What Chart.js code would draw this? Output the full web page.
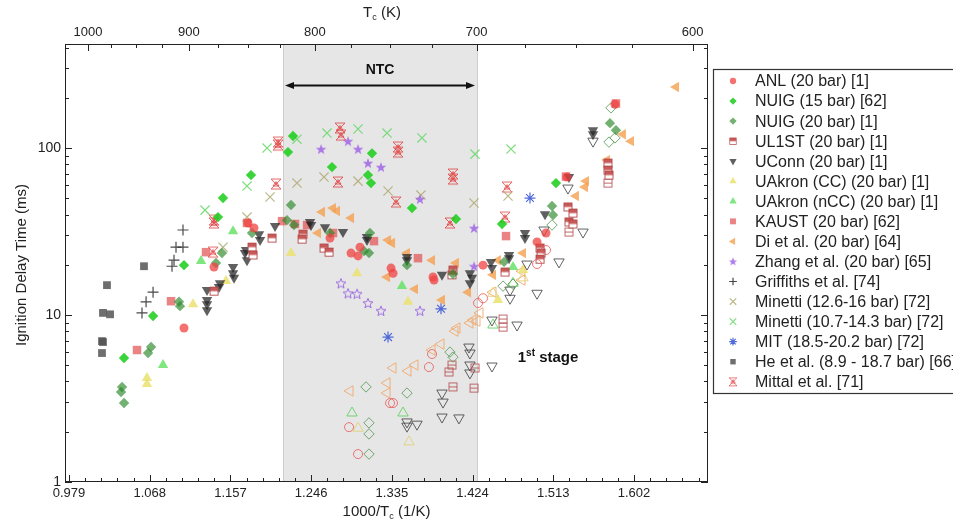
<!DOCTYPE html>
<html>
<head>
<meta charset="utf-8">
<script src="https://cdn.jsdelivr.net/npm/chart.js@4.4.1/dist/chart.umd.min.js"></script>
<style>
  html, body { margin: 0; padding: 0; background: #fff; }
  #wrap { width: 953px; height: 529px; position: relative; }
</style>
</head>
<body>
<div id="wrap"><canvas id="chart"></canvas></div>
<script>
// Axis ticks
const BOTTOM_TICKS = [0.979, 1.068, 1.157, 1.246, 1.335, 1.424, 1.513, 1.602];
const TOP_TICKS_K = [1000, 900, 800, 700, 600];
const TOP_MINOR_K = [975, 950, 925, 875, 850, 825, 775, 750, 725, 675, 650, 625];
const Y_TICKS = [1, 10, 100];
const NTC_RANGE = [1.215, 1.4289];

// Data: [1000/Tc (1/K), ignition delay (ms)]; *Open = first-stage (hollow markers)
const anl = [[1.1058, 8.36], [1.1764, 35.6], [1.183, 33.2], [1.1389, 19.4], [1.2668, 28.9], [1.29, 23.5], [1.2977, 22.6],
  [1.2999, 25.5], [1.3341, 19.1], [1.3363, 17.8], [1.3804, 16.9], [1.3815, 16.2], [1.4355, 19.9], [1.4951, 27.4],
  [1.505, 31], [1.5281, 67], [1.581, 183]];
const anlOpen = [[1.43, 11.8], [1.4355, 12.6], [1.3793, 5.84], [1.3759, 4.88], [1.333, 2.97], [1.3363, 2.97],
  [1.2878, 2.13], [1.2977, 1.47], [1.505, 24.5], [1.4951, 20.2]];
const nuig15 = [[1.0397, 5.53], [1.0717, 9.86], [1.1058, 19.9], [1.1433, 38.6], [1.1488, 50.2], [1.1797, 68.9],
  [1.2205, 94.6], [1.226, 118], [1.269, 76.9], [1.3131, 93], [1.3087, 68.9], [1.312, 61.7], [1.3572, 43.7],
  [1.4057, 37.6], [1.4565, 35.1], [1.516, 61.7]];
const nuig20 = [[1.0364, 3.46], [1.0375, 3.71], [1.0397, 2.97], [1.0662, 5.92], [1.0695, 6.43], [1.1003, 12],
  [1.1014, 11.3], [1.1411, 20.5], [1.1477, 23.5], [1.1808, 31], [1.2194, 37], [1.2238, 45.6], [1.2271, 34.6],
  [1.2668, 31], [1.3109, 31], [1.3043, 24.2], [1.3098, 23.5], [1.3517, 19.9], [1.4024, 17.6], [1.4587, 20.8],
  [1.5116, 45], [1.5127, 39.7], [1.5755, 141], [1.5821, 128]];
const nuig20Open = [[1.5766, 174], [1.581, 115], [1.5744, 108.6], [1.5116, 34.6], [1.4576, 14.9], [1.4686, 15.3],
  [1.3991, 6], [1.4024, 5.6], [1.3065, 3.71], [1.3517, 3.41], [1.3098, 2.26], [1.3098, 1.94], [1.3098, 1.47]];
const ul1st = [[1.2029, 28.9], [1.1808, 25.5], [1.1819, 22.9], [1.1389, 13.9], [1.237, 30.5], [1.236, 28.5],
  [1.2602, 25.2], [1.2657, 23.8], [1.4024, 18.6], [1.4013, 17.4], [1.4598, 18.1], [1.4984, 25.2], [1.4995, 23.5],
  [1.4984, 21.6], [1.5292, 44.4], [1.5347, 40.8], [1.5303, 36.1], [1.5347, 35.1], [1.5733, 81.3], [1.5733, 73.8],
  [1.5744, 68.9]];
const ul1stOpen = [[1.5733, 61.7], [1.5303, 31.4], [1.4576, 9.46], [1.4576, 8.47], [1.4013, 5.02], [1.398, 4.56],
  [1.4267, 4.82], [1.4024, 3.71], [1.4256, 3.65]];
const uconn = [[1.1312, 14.1], [1.1312, 12.3], [1.1312, 11.6], [1.1312, 10.7], [1.1444, 14.7], [1.1455, 15.5],
  [1.1599, 19.4], [1.1599, 17.8], [1.161, 16.7], [1.1731, 23.5], [1.1742, 24.5], [1.1753, 21.3], [1.1886, 30.5],
  [1.1897, 28.1], [1.2062, 34.1], [1.2448, 36.1], [1.2459, 34.6], [1.2613, 33.6], [1.2811, 31.4], [1.3076, 29.3],
  [1.3076, 28.1], [1.3517, 22.3], [1.3517, 21.3], [1.3903, 17.4], [1.4211, 17.8], [1.4234, 16.7], [1.4211, 15.5],
  [1.4443, 20.8], [1.4454, 19.1], [1.4642, 22.9], [1.4642, 21.9], [1.4818, 31], [1.4818, 28.9], [1.5039, 40.2],
  [1.5303, 67], [1.5568, 128], [1.5568, 121]];
const uconnOpen = [[1.5568, 110], [1.5292, 57.6], [1.5458, 31.4], [1.5028, 32.3], [1.5193, 20.8], [1.484, 20.2],
  [1.4653, 14.1], [1.4653, 12.6], [1.4951, 13.5], [1.4454, 9.33], [1.473, 8.71], [1.42, 6.43], [1.4211, 5.92],
  [1.4211, 5.02], [1.4211, 4.5], [1.4454, 4.95], [1.3903, 3.41], [1.3914, 3.01], [1.3903, 2.45], [1.409, 2.42],
  [1.3517, 2.29], [1.3517, 2.16], [1.3627, 2.22]];
const uakronCC = [[1.065, 4.2], [1.065, 3.86], [1.1158, 11.6], [1.1521, 16], [1.2238, 23.5], [1.2966, 17.8],
  [1.3528, 12], [1.452, 12.3], [1.4796, 18.6]];
const uakronCCOpen = [[1.2977, 2.1], [1.3539, 1.74], [1.4465, 13.5], [1.4796, 16.7]];
const uakronNCC = [[1.0827, 5.02], [1.1246, 21.1], [1.1599, 31.8], [1.3462, 14.9], [1.4686, 19.4]];
const uakronNCCOpen = [[1.2911, 2.59], [1.3473, 2.59], [1.4686, 15.5], [1.4465, 8.71]];
const kaust = [[1.054, 6.17], [1.0915, 12.1], [1.1301, 23.8], [1.1753, 35.6], [1.2139, 36.5], [1.2282, 35.1],
  [1.2415, 34.6], [1.2701, 31], [1.3153, 27.7], [1.3638, 21.9], [1.4609, 29.7], [1.527, 67.5], [1.5821, 185]];
const di = [[1.258, 41.4], [1.2701, 43.7], [1.2745, 42], [1.29, 38.1], [1.2536, 31], [1.3308, 28.1], [1.3352, 27],
  [1.3517, 23.5], [1.3793, 21.3], [1.4057, 20.5], [1.3297, 16.9], [1.3605, 14.3], [1.3903, 12.3], [1.419, 13.7],
  [1.4465, 17.4], [1.452, 21.3], [1.4796, 23.5], [1.538, 51.6], [1.548, 58.4], [1.5491, 63.4], [1.5722, 84.7],
  [1.5898, 121], [1.5987, 110], [1.6483, 232]];
const diOpen = [[1.4322, 10.3], [1.4289, 9.2], [1.4211, 8.96], [1.4068, 8.36], [1.4046, 8.0], [1.3892, 6.7],
  [1.3793, 6.17], [1.3605, 5.02], [1.3528, 4.62], [1.3363, 4.82], [1.3297, 3.92], [1.3297, 3.41], [1.2889, 3.51],
  [1.4465, 13.7], [1.4245, 9.33], [1.4785, 18.3], [1.4785, 16.2]];
const zhang = [[1.257, 98.6], [1.2867, 110], [1.2977, 98.6], [1.3087, 81.3], [1.323, 76.9], [1.366, 49.5],
  [1.4256, 33.2], [1.4256, 19.6]];
const zhangOpen = [[1.2789, 15.5], [1.2867, 13.5], [1.2966, 13.4], [1.3087, 11.8], [1.323, 10.6], [1.366, 10.6]];
const griffiths = [[1.0595, 10.3], [1.064, 12], [1.0717, 13.7], [1.0926, 19.6], [1.0948, 21.3], [1.097, 25.5],
  [1.1047, 25.5], [1.1047, 32.3]];
const minettiA = [[1.1488, 25.5], [1.1753, 38.6], [1.2007, 50.9], [1.2304, 61.7], [1.2602, 67], [1.2977, 63.4],
  [1.3308, 55.3], [1.3671, 52.3], [1.4256, 46.9], [1.4631, 51.6]];
const minettiB = [[1.129, 42.5], [1.1753, 59.2], [1.1974, 100], [1.2304, 113], [1.2635, 123], [1.2977, 130],
  [1.3297, 123], [1.3682, 115], [1.4267, 92], [1.4664, 98.6]];
const mit = [[1.3308, 7.38], [1.3892, 10.9], [1.4873, 50.2]];
const he = [[1.0154, 6.98], [1.0154, 5.92], [1.0165, 6.89], [1.0165, 10.3], [1.0243, 10.1], [1.0209, 15.1],
  [1.0617, 19.6]];
const mittal = [[1.1378, 23.8], [1.1389, 37], [1.1389, 35.6], [1.2073, 60.9], [1.2095, 108.6], [1.2095, 104.2],
  [1.2778, 131.8], [1.2789, 119.6], [1.2756, 62.6], [1.3418, 101.4], [1.3418, 94.6], [1.3396, 47.5],
  [1.4024, 69.9], [1.4024, 65.2], [1.3991, 35.6], [1.462, 58.4], [1.4598, 38.6]];

const FONT = "'Liberation Sans', Arial, sans-serif";

// small canvas markers for shapes Chart.js does not have
function makeMarker(size, draw) {
  const c = document.createElement('canvas');
  c.width = size; c.height = size;
  const g = c.getContext('2d');
  draw(g, size / 2);
  return c;
}
function starPath(g, cx, cy, ro, ri) {
  g.beginPath();
  for (let i = 0; i < 10; i++) {
    const r = i % 2 ? ri : ro;
    const a = -Math.PI / 2 + i * Math.PI / 5;
    g.lineTo(cx + r * Math.cos(a), cy + r * Math.sin(a));
  }
  g.closePath();
}
const ul1stImg = makeMarker(11, (g, c) => {
  g.fillStyle = '#fff'; g.fillRect(1.5, 1.5, 8, 8);
  g.fillStyle = 'rgba(190,60,60,0.85)'; g.fillRect(1.5, 1.5, 8, 4);
  g.strokeStyle = 'rgba(175,60,60,0.85)'; g.lineWidth = 1; g.strokeRect(1.5, 1.5, 8, 8);
});
const ul1stOpenImg = makeMarker(11, (g, c) => {
  g.strokeStyle = 'rgba(180,80,80,0.85)'; g.lineWidth = 1;
  g.strokeRect(1.5, 1.5, 8, 8);
  g.beginPath(); g.moveTo(1.5, 5.5); g.lineTo(9.5, 5.5); g.stroke();
});
const zhangImg = makeMarker(12, (g, c) => {
  starPath(g, c, c + 0.5, 5.5, 2.3);
  g.fillStyle = 'rgba(160,100,230,0.85)'; g.fill();
});
const zhangOpenImg = makeMarker(12, (g, c) => {
  starPath(g, c, c + 0.5, 5.2, 2.3);
  g.strokeStyle = 'rgba(150,95,225,0.9)'; g.lineWidth = 1; g.stroke();
});
const mittalImg = makeMarker(14, (g, c) => {
  g.strokeStyle = 'rgba(225,70,70,0.85)'; g.lineWidth = 1;
  g.beginPath();
  g.moveTo(2, 2); g.lineTo(12, 12); g.moveTo(12, 2); g.lineTo(2, 12);
  g.moveTo(2, 2); g.lineTo(12, 2); g.moveTo(2, 12); g.lineTo(12, 12);
  g.moveTo(4, 9); g.lineTo(7, 4.5); g.lineTo(10, 9); g.closePath();
  g.stroke();
});

const SERIES = [
  { label: 'ANL (20 bar) [1]', data: anl, open: anlOpen, style: 'circle', r: 4.5, color: 'rgba(240,65,65,0.75)', openColor: 'rgba(235,95,95,0.85)' },
  { label: 'NUIG (15 bar) [62]', data: nuig15, style: 'rectRot', r: 5.2, color: 'rgba(25,205,25,0.85)' },
  { label: 'NUIG (20 bar) [1]', data: nuig20, open: nuig20Open, style: 'rectRot', r: 5.2, color: 'rgba(40,135,40,0.65)', openColor: 'rgba(90,155,90,0.85)' },
  { label: 'UL1ST (20 bar) [1]', data: ul1st, open: ul1stOpen, style: ul1stImg, openStyle: ul1stOpenImg, r: 5, color: 'rgba(190,60,60,0.85)' },
  { label: 'UConn (20 bar) [1]', data: uconn, open: uconnOpen, style: 'triangle', rot: 180, r: 6, color: 'rgba(35,35,35,0.72)', openColor: 'rgba(70,70,70,0.85)' },
  { label: 'UAkron (CC) (20 bar) [1]', data: uakronCC, open: uakronCCOpen, style: 'triangle', r: 6, color: 'rgba(235,225,110,0.85)', openColor: 'rgba(225,210,120,0.9)' },
  { label: 'UAkron (nCC) (20 bar) [1]', data: uakronNCC, open: uakronNCCOpen, style: 'triangle', r: 6, color: 'rgba(95,225,95,0.8)', openColor: 'rgba(100,210,100,0.9)' },
  { label: 'KAUST (20 bar) [62]', data: kaust, style: 'rect', r: 6, color: 'rgba(225,80,80,0.7)' },
  { label: 'Di et al. (20 bar) [64]', data: di, open: diOpen, style: 'triangle', rot: 270, r: 6, color: 'rgba(245,160,80,0.8)', openColor: 'rgba(240,170,110,0.9)' },
  { label: 'Zhang et al. (20 bar) [65]', data: zhang, open: zhangOpen, style: zhangImg, openStyle: zhangOpenImg, r: 5, color: 'rgba(160,100,230,0.85)' },
  { label: 'Griffiths et al. [74]', data: griffiths, style: 'cross', r: 5.5, color: 'rgba(40,40,40,0.85)', line: true },
  { label: 'Minetti (12.6-16 bar) [72]', data: minettiA, style: 'crossRot', r: 6.5, color: 'rgba(175,170,115,0.85)', line: true },
  { label: 'Minetti (10.7-14.3 bar) [72]', data: minettiB, style: 'crossRot', r: 6.5, color: 'rgba(105,215,105,0.85)', line: true },
  { label: 'MIT (18.5-20.2 bar) [72]', data: mit, style: 'star', r: 5.5, color: 'rgba(50,80,210,0.85)', line: true },
  { label: 'He et al. (8.9 - 18.7 bar) [66]', data: he, style: 'rect', r: 5.5, color: 'rgba(85,85,85,0.85)' },
  { label: 'Mittal et al. [71]', data: mittal, style: mittalImg, r: 6, color: 'rgba(225,70,70,0.85)' },
];

const toPts = (arr) => arr.map(([x, y]) => ({ x, y }));
const datasets = [];
SERIES.forEach((s) => {
  datasets.push({
    label: s.label,
    data: toPts(s.data),
    pointStyle: s.style,
    rotation: s.rot || 0,
    pointRadius: s.r,
    backgroundColor: s.line ? 'rgba(0,0,0,0)' : s.color,
    borderColor: s.color,
    borderWidth: s.line ? 1.2 : 0,
  });
  if (s.open) {
    datasets.push({
      label: s.label + ' (1st stage)',
      data: toPts(s.open),
      pointStyle: s.openStyle || s.style,
      rotation: s.rot || 0,
      pointRadius: s.r,
      backgroundColor: 'rgba(0,0,0,0)',
      borderColor: s.openColor || s.color,
      borderWidth: 1,
    });
  }
});

function drawParts(ctx, parts, cx, baseY) {
  let w = 0;
  parts.forEach((p) => { ctx.font = p.font; p.w = ctx.measureText(p.t).width; w += p.w; });
  let x = cx - w / 2;
  ctx.textAlign = 'left';
  ctx.textBaseline = 'alphabetic';
  parts.forEach((p) => { ctx.font = p.font; ctx.fillText(p.t, x, baseY + (p.dy || 0)); x += p.w; });
}

const decor = {
  id: 'decor',
  beforeDatasetsDraw(chart) {
    const { ctx, chartArea: a, scales: { x } } = chart;
    const x0 = x.getPixelForValue(NTC_RANGE[0]);
    const x1 = x.getPixelForValue(NTC_RANGE[1]);
    ctx.save();
    ctx.fillStyle = '#e6e6e6';
    ctx.fillRect(x0, a.top, x1 - x0, a.bottom - a.top);
    ctx.strokeStyle = '#cdcdcd';
    ctx.lineWidth = 1;
    ctx.beginPath();
    ctx.moveTo(Math.round(x0) + 0.5, a.top); ctx.lineTo(Math.round(x0) + 0.5, a.bottom);
    ctx.moveTo(Math.round(x1) + 0.5, a.top); ctx.lineTo(Math.round(x1) + 0.5, a.bottom);
    ctx.stroke();
    ctx.restore();
  },
  afterDraw(chart) {
    const { ctx, chartArea: a, scales: { x, y } } = chart;
    ctx.save();
    // frame
    ctx.strokeStyle = '#222';
    ctx.lineWidth = 1;
    ctx.strokeRect(a.left + 0.5, a.top + 0.5, a.right - a.left - 1, a.bottom - a.top - 1);

    // inward ticks
    ctx.beginPath();
    const vTick = (px, len) => {
      px = Math.round(px) + 0.5;
      ctx.moveTo(px, a.bottom); ctx.lineTo(px, a.bottom - len);
    };
    BOTTOM_TICKS.forEach((v) => vTick(x.getPixelForValue(v), 7));
    for (let v = BOTTOM_TICKS[0]; v < x.max; v += 0.089) {
      for (let k = 1; k < 5; k++) {
        const m = v + k * 0.0178;
        if (m < x.max) vTick(x.getPixelForValue(m), 4);
      }
    }
    const tTick = (px, len) => {
      px = Math.round(px) + 0.5;
      ctx.moveTo(px, a.top); ctx.lineTo(px, a.top + len);
    };
    TOP_TICKS_K.forEach((t) => tTick(x.getPixelForValue(1000 / t), 7));
    TOP_MINOR_K.forEach((t) => tTick(x.getPixelForValue(1000 / t), 4));
    const hTick = (py, len) => {
      py = Math.round(py) + 0.5;
      ctx.moveTo(a.left, py); ctx.lineTo(a.left + len, py);
      ctx.moveTo(a.right, py); ctx.lineTo(a.right - len, py);
    };
    for (let d = 1; d <= 100; d *= 10) {
      hTick(y.getPixelForValue(d), 7);
      for (let k = 2; k <= 9; k++) {
        if (d * k <= y.max) hTick(y.getPixelForValue(d * k), 4);
      }
    }
    ctx.stroke();

    ctx.fillStyle = '#222';
    // axis titles
    drawParts(ctx, [
      { t: '1000/T', font: `15px ${FONT}` },
      { t: 'c', font: `9px ${FONT}`, dy: 3 },
      { t: ' (1/K)', font: `15px ${FONT}` },
    ], (a.left + a.right) / 2, 516);
    drawParts(ctx, [
      { t: 'T', font: `15px ${FONT}` },
      { t: 'c', font: `9px ${FONT}`, dy: 3 },
      { t: ' (K)', font: `15px ${FONT}` },
    ], 382, 17);
    ctx.save();
    ctx.translate(22, 265);
    ctx.rotate(-Math.PI / 2);
    ctx.font = `15px ${FONT}`;
    ctx.textAlign = 'center';
    ctx.textBaseline = 'middle';
    ctx.fillText('Ignition Delay Time (ms)', 0, 0);
    ctx.restore();

    // NTC arrow
    const x0 = x.getPixelForValue(NTC_RANGE[0]) + 2;
    const x1 = x.getPixelForValue(NTC_RANGE[1]) - 2;
    const ay = Math.round(y.getPixelForValue(238)) + 0.5;
    ctx.strokeStyle = '#111';
    ctx.lineWidth = 2;
    ctx.beginPath(); ctx.moveTo(x0 + 4, ay); ctx.lineTo(x1 - 4, ay); ctx.stroke();
    ctx.fillStyle = '#111';
    ctx.beginPath(); ctx.moveTo(x0, ay); ctx.lineTo(x0 + 9, ay - 3.5); ctx.lineTo(x0 + 9, ay + 3.5); ctx.closePath(); ctx.fill();
    ctx.beginPath(); ctx.moveTo(x1, ay); ctx.lineTo(x1 - 9, ay - 3.5); ctx.lineTo(x1 - 9, ay + 3.5); ctx.closePath(); ctx.fill();
    ctx.font = `bold 14px ${FONT}`;
    ctx.textAlign = 'center';
    ctx.textBaseline = 'middle';
    ctx.fillText('NTC', (x0 + x1) / 2, y.getPixelForValue(293));

    // 1st stage label
    drawParts(ctx, [
      { t: '1', font: `bold 15px ${FONT}` },
      { t: 'st', font: `bold 10px ${FONT}`, dy: -6 },
      { t: ' stage', font: `bold 15px ${FONT}` },
    ], x.getPixelForValue(1.5072), y.getPixelForValue(5.6) + 5);

    // legend
    const lx = 713.5, ly = 69.5;
    ctx.strokeStyle = '#333';
    ctx.lineWidth = 1.2;
    ctx.strokeRect(lx, ly, 260, 324);
    const drawPoint = Chart.helpers && Chart.helpers.drawPoint;
    SERIES.forEach((s, i) => {
      const cy = 81 + i * 20.05;
      const mx = 733;
      if (typeof s.style !== 'string') {
        const w = s.style.width * 0.8, h = s.style.height * 0.8;
        ctx.drawImage(s.style, mx - w / 2, cy - h / 2, w, h);
      } else if (drawPoint) {
        ctx.fillStyle = s.line ? 'rgba(0,0,0,0)' : s.color;
        ctx.strokeStyle = s.color;
        drawPoint(ctx, { pointStyle: s.style, rotation: s.rot || 0, radius: s.r * 0.7, borderWidth: s.line ? 1.1 : 0 }, mx, cy);
      }
      ctx.fillStyle = '#222';
      ctx.font = `16px ${FONT}`;
      ctx.textAlign = 'left';
      ctx.textBaseline = 'middle';
      ctx.fillText(s.label, 755, cy + 1);
    });
    ctx.restore();
  },
};

new Chart(document.getElementById('chart'), {
  type: 'scatter',
  data: { datasets },
  plugins: [decor],
  options: {
    responsive: true,
    maintainAspectRatio: false,
    animation: false,
    events: [],
    layout: { padding: { left: 0, right: 245, top: 0, bottom: 0 } },
    plugins: { legend: { display: false }, tooltip: { enabled: false } },
    scales: {
      x: {
        type: 'linear',
        position: 'bottom',
        min: 0.9746,
        max: 1.6836,
        afterBuildTicks: (s) => { s.ticks = BOTTOM_TICKS.map((v) => ({ value: v })); },
        afterFit: (s) => { s.height = 47; },
        ticks: { autoSkip: false, maxRotation: 0, padding: 4, color: '#222', font: { family: FONT, size: 13 },
          callback: (v) => Number(v).toFixed(3) },
        grid: { display: false, drawTicks: false },
        border: { display: false },
      },
      xTop: {
        type: 'linear',
        position: 'top',
        min: 0.9746,
        max: 1.6836,
        afterBuildTicks: (s) => { s.ticks = TOP_TICKS_K.map((t) => ({ value: 1000 / t })); },
        afterFit: (s) => { s.height = 44; },
        ticks: { autoSkip: false, maxRotation: 0, padding: 4, color: '#222', font: { family: FONT, size: 13 },
          callback: (v) => String(Math.round(1000 / v)) },
        grid: { display: false, drawTicks: false },
        border: { display: false },
      },
      y: {
        type: 'logarithmic',
        min: 1,
        max: 420,
        afterBuildTicks: (s) => { s.ticks = Y_TICKS.map((v) => ({ value: v })); },
        afterFit: (s) => { s.width = 65; },
        ticks: { autoSkip: false, padding: 4, color: '#222', font: { family: FONT, size: 14 },
          callback: (v) => String(v) },
        grid: { display: false, drawTicks: false },
        border: { display: false },
      },
    },
  },
});
</script>
</body>
</html>
